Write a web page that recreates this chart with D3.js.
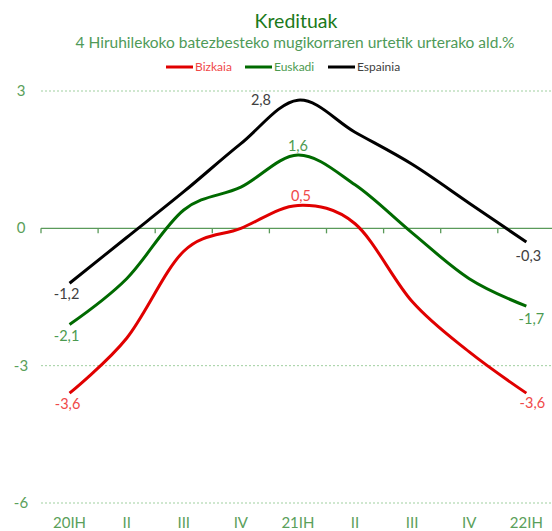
<!DOCTYPE html>
<html>
<head>
<meta charset="utf-8">
<script src="https://cdn.jsdelivr.net/npm/d3@7"></script>
<style>
  body { margin: 0; background: #fff; }
  text { font-family: Lato, "Open Sans", sans-serif; }
</style>
</head>
<body>
<div id="container"></div>
<script>
/* DATA */
const quarters = ['20IH', 'II', 'III', 'IV', '21IH', 'II ', 'III ', 'IV ', '22IH'];
const quarterLabels = ['20IH', 'II', 'III', 'IV', '21IH', 'II', 'III', 'IV', '22IH'];
const bizkaia = [-3.6, -2.4, -0.5, 0.0, 0.5, 0.1, -1.6, -2.7, -3.6];
const euskadi = [-2.1, -1.1, 0.4, 0.9, 1.6, 0.95, -0.1, -1.1, -1.7];
const espainia = [-1.2, -0.2, 0.8, 1.85, 2.8, 2.1, 1.4, 0.55, -0.3];
const yTicks = [3, 0, -3, -6];

/* CONSTANTS */
const width = 552, height = 531;
const left = 41, bandW = 57.1;

const series = [
  { name: 'Bizkaia', values: bizkaia, color: '#e00000', labelColor: '#f04848', legendX: 166,
    labels: [{ i: 0, dx: -2, dy: 16 }, { i: 4, dx: 3, dy: -4 }, { i: 8, dx: 6, dy: 15 }] },
  { name: 'Euskadi', values: euskadi, color: '#006a00', labelColor: '#4c9a50', legendX: 245,
    labels: [{ i: 0, dx: -3, dy: 17 }, { i: 4, dx: 0, dy: -4 }, { i: 8, dx: 5, dy: 18 }] },
  { name: 'Espainia', values: espainia, color: '#000000', labelColor: '#404040', legendX: 328,
    labels: [{ i: 0, dx: -3, dy: 16 }, { i: 4, dx: -37, dy: 5 }, { i: 8, dx: 2, dy: 19 }] }
];

/* SCALES */
const xScale = d3.scaleBand()
  .domain(quarters)
  .range([left, left + bandW * quarters.length])
  .padding(0);

const yScale = d3.scaleLinear()
  .domain([-6, 3])
  .range([503, 91]);

const xPos = i => xScale(quarters[i]) + xScale.bandwidth() / 2;
const fmt = v => d3.format('.1f')(v).replace('.', ',').replace('−', '-');

/* SVG */
const svg = d3.select('#container')
  .append('svg')
  .attr('width', width)
  .attr('height', height);

// titles
svg.append('text')
  .attr('x', 296).attr('y', 28)
  .attr('text-anchor', 'middle')
  .attr('font-size', 19.5)
  .attr('fill', '#1a7a1a')
  .text('Kredituak');

svg.append('text')
  .attr('x', 295).attr('y', 48)
  .attr('text-anchor', 'middle')
  .attr('font-size', 15.5)
  .attr('fill', '#4f9a58')
  .text('4 Hiruhilekoko batezbesteko mugikorraren urtetik urterako ald.%');

// legend
const legend = svg.append('g').selectAll('g')
  .data(series)
  .join('g')
  .attr('transform', d => `translate(${d.legendX},67)`);
legend.append('line')
  .attr('x1', 0).attr('x2', 27)
  .attr('stroke', d => d.color)
  .attr('stroke-width', 3);
legend.append('text')
  .attr('x', 29).attr('y', 4)
  .attr('font-size', 12)
  .attr('fill', d => d.labelColor)
  .text(d => d.name);

// grid lines
svg.append('g').selectAll('line')
  .data(yTicks.filter(t => t !== 0))
  .join('line')
  .attr('x1', left).attr('x2', width)
  .attr('y1', d => yScale(d)).attr('y2', d => yScale(d))
  .attr('stroke', '#9fcf9f')
  .attr('stroke-dasharray', '2,2');

// y labels
svg.append('g').selectAll('text')
  .data(yTicks)
  .join('text')
  .attr('x', 21).attr('y', d => yScale(d) + 5)
  .attr('text-anchor', 'middle')
  .attr('font-size', 15)
  .attr('fill', '#5aa05a')
  .text(d => d);

// zero axis with band ticks
const xAxis = d3.axisBottom(xScale)
  .tickSize(0)
  .tickFormat('');
const zero = svg.append('g')
  .attr('transform', `translate(0,${yScale(0)})`)
  .call(xAxis);
zero.select('.domain').remove();
zero.append('line')
  .attr('x1', left).attr('x2', width)
  .attr('stroke', '#5a9a5a').attr('stroke-width', 1.3);
zero.selectAll('.bound')
  .data(quarters)
  .join('line')
  .attr('class', 'bound')
  .attr('x1', d => xScale(d)).attr('x2', d => xScale(d))
  .attr('y1', 0).attr('y2', 5)
  .attr('stroke', '#5a9a5a').attr('stroke-width', 1.3);

// x labels
svg.append('g').selectAll('text')
  .data(quarters)
  .join('text')
  .attr('x', d => xScale(d) + xScale.bandwidth() / 2)
  .attr('y', 528)
  .attr('text-anchor', 'middle')
  .attr('font-size', 15)
  .attr('fill', '#5aa05a')
  .text((d, i) => quarterLabels[i]);

// lines
const line = d3.line()
  .x((d, i) => xPos(i))
  .y(d => yScale(d))
  .curve(d3.curveCardinal.tension(0));

svg.append('g').selectAll('path')
  .data(series)
  .join('path')
  .attr('d', d => line(d.values))
  .attr('fill', 'none')
  .attr('stroke', d => d.color)
  .attr('stroke-width', 3);

// value labels
series.forEach(s => {
  svg.append('g').selectAll('text')
    .data(s.labels)
    .join('text')
    .attr('x', d => xPos(d.i) + d.dx)
    .attr('y', d => yScale(s.values[d.i]) + d.dy)
    .attr('text-anchor', 'middle')
    .attr('font-size', 14.5)
    .attr('fill', s.labelColor)
    .text(d => fmt(s.values[d.i]));
});
</script>
</body>
</html>
